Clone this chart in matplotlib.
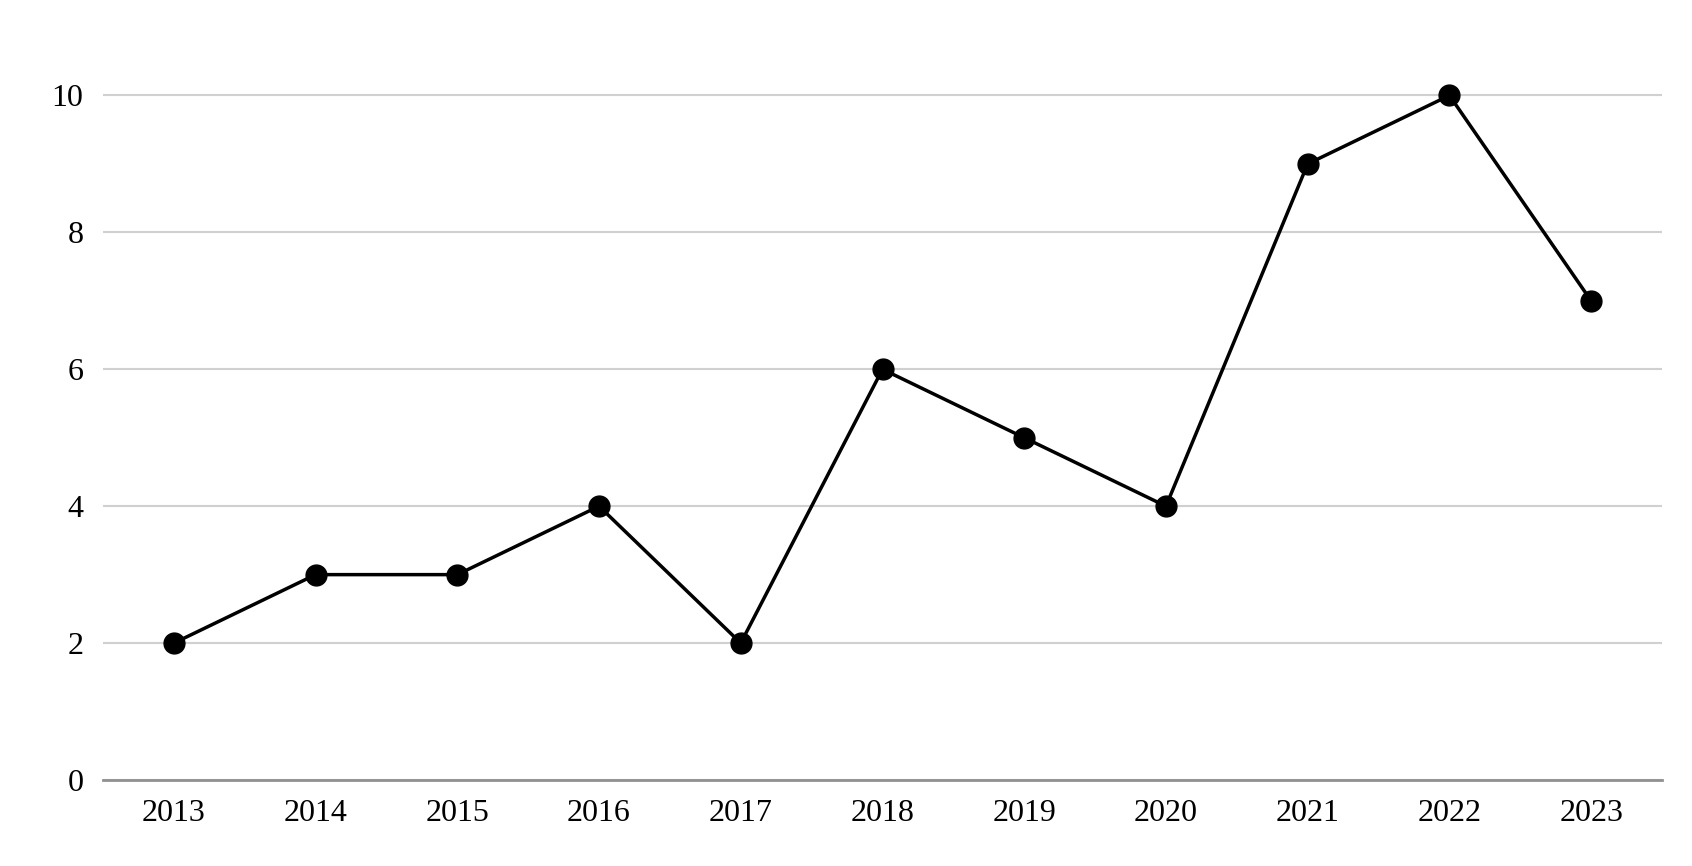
import matplotlib.pyplot as plt

years = ['2013', '2014', '2015', '2016', '2017', '2018', '2019', '2020', '2021', '2022', '2023']
values = [2, 3, 3, 4, 2, 6, 5, 4, 9, 10, 7]

plt.rcParams['font.family'] = ['Liberation Serif', 'DejaVu Serif']
fig = plt.figure(figsize=(16.92, 8.66), dpi=100)
ax = fig.add_axes([103/1692, 1-780/866, (1662-103)/1692, (780-27)/866])
x = range(len(years))
ax.plot(x, values, color='black', lw=2.5, marker='o', ms=15, zorder=3)
ax.set_xlim(-0.5, len(years)-0.5)
ax.set_ylim(0, 11)
ax.set_yticks([0, 2, 4, 6, 8, 10])
ax.set_xticks(list(x))
ax.set_xticklabels(years)
ax.grid(axis='y', color='#d0d0d0', lw=1.5)
ax.set_axisbelow(True)
for s in ['top', 'right', 'left']:
    ax.spines[s].set_visible(False)
ax.spines['bottom'].set_color('#909090')
ax.spines['bottom'].set_linewidth(2)
ax.tick_params(length=0, labelsize=23, pad=14)
plt.savefig('out.png', dpi=100)
